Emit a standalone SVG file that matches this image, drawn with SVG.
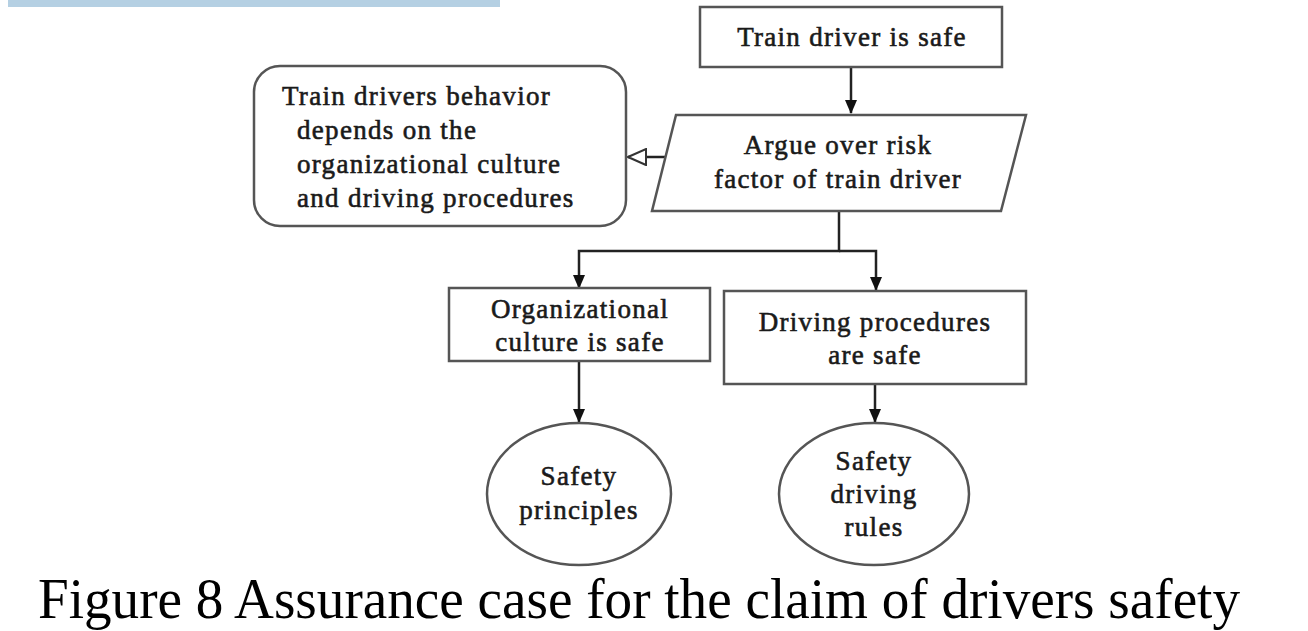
<svg xmlns="http://www.w3.org/2000/svg" width="1308" height="631" viewBox="0 0 1308 631">
<defs>
<style>
.box{fill:#fff;stroke:#555;stroke-width:2.5}
.t{font-family:"Liberation Serif",serif;font-size:27px;fill:#1a1a1a;stroke:#1a1a1a;stroke-width:0.6;letter-spacing:1.3px;text-anchor:middle}
.l{text-anchor:start}
.c{stroke:#222;stroke-width:2.5;fill:none}
.cap{font-family:"Liberation Serif",serif;font-size:58px;fill:#000}
</style>
<marker id="ah" markerWidth="14" markerHeight="12" refX="13" refY="6" orient="auto" markerUnits="userSpaceOnUse">
<path d="M0,0 L14,6 L0,12 Z" fill="#111"/>
</marker>
<marker id="oh" markerWidth="20" markerHeight="18" refX="19" refY="9" orient="auto" markerUnits="userSpaceOnUse">
<path d="M1,1 L19,9 L1,17 Z" fill="#fff" stroke="#333" stroke-width="2"/>
</marker>
</defs>
<rect width="1308" height="631" fill="#fff"/>
<rect x="8" y="0" width="492" height="7" fill="#b5d0e3"/>

<g id="connectors">
<line class="c" x1="851" y1="67" x2="851" y2="113" marker-end="url(#ah)"/>
<line class="c" x1="665" y1="157" x2="628" y2="157" marker-end="url(#oh)"/>
<polyline class="c" points="839,211 839,251 579,251 579,288" marker-end="url(#ah)"/>
<polyline class="c" points="839,251 876,251 876,290" marker-end="url(#ah)"/>
<line class="c" x1="579" y1="361" x2="579" y2="422" marker-end="url(#ah)"/>
<line class="c" x1="875" y1="384" x2="875" y2="422" marker-end="url(#ah)"/>
</g>

<g id="goal-top">
<rect class="box" x="700" y="7" width="302" height="60"/>
<text class="t" x="852" y="46">Train driver is safe</text>
</g>

<g id="strategy">
<polygon class="box" points="676,115 1026,115 1001,211 652,211"/>
<text class="t" x="838" y="154">Argue over risk</text>
<text class="t" x="838" y="188">factor of train driver</text>
</g>

<g id="context">
<rect class="box" x="254" y="66" width="372" height="160" rx="26" ry="26"/>
<text class="t l" x="282" y="105">Train drivers behavior</text>
<text class="t l" x="297" y="139">depends on the</text>
<text class="t l" x="297" y="173">organizational culture</text>
<text class="t l" x="297" y="207">and driving procedures</text>
</g>

<g id="goal-org">
<rect class="box" x="449" y="288" width="261" height="73"/>
<text class="t" x="580" y="318">Organizational</text>
<text class="t" x="580" y="351">culture is safe</text>
</g>

<g id="goal-proc">
<rect class="box" x="724" y="291" width="302" height="93"/>
<text class="t" x="875" y="331">Driving procedures</text>
<text class="t" x="875" y="364">are safe</text>
</g>

<g id="sol-principles">
<ellipse class="box" cx="579" cy="494" rx="92" ry="71"/>
<text class="t" x="579" y="485">Safety</text>
<text class="t" x="579" y="519">principles</text>
</g>

<g id="sol-rules">
<ellipse class="box" cx="874" cy="494" rx="95" ry="71"/>
<text class="t" x="874" y="470">Safety</text>
<text class="t" x="874" y="503">driving</text>
<text class="t" x="874" y="536">rules</text>
</g>

<text class="cap" x="38" y="618" textLength="1202" lengthAdjust="spacingAndGlyphs">Figure 8 Assurance case for the claim of drivers safety</text>
</svg>
